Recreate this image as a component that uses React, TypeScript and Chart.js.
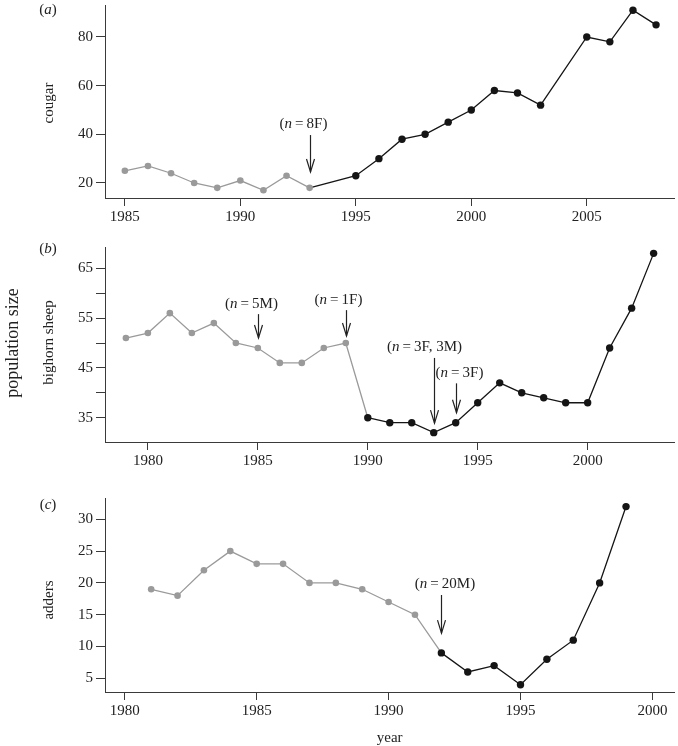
import React, { useEffect, useRef } from "react";
import { Chart, registerables } from "chart.js";

Chart.register(...registerables);

// ---------------- data ----------------
const cougarYears = [1985, 1986, 1987, 1988, 1989, 1990, 1991, 1992, 1993, 1995, 1996, 1997, 1998, 1999, 2000, 2001, 2002, 2003, 2005, 2006, 2007, 2008];
const cougarCounts = [25, 27, 24, 20, 18, 21, 17, 23, 18, 23, 30, 38, 40, 45, 50, 58, 57, 52, 80, 78, 91, 85];
const cougarXTicks = [1985, 1990, 1995, 2000, 2005];
const cougarYTicks = [20, 40, 60, 80];
const cougarYLabelled = [20, 40, 60, 80];
const cougarNotes = [{ year: 1993, n: "8F" }];

const sheepYears = [1979, 1980, 1981, 1982, 1983, 1984, 1985, 1986, 1987, 1988, 1989, 1990, 1991, 1992, 1993, 1994, 1995, 1996, 1997, 1998, 1999, 2000, 2001, 2002, 2003];
const sheepCounts = [51, 52, 56, 52, 54, 50, 49, 46, 46, 49, 50, 35, 34, 34, 32, 34, 38, 42, 40, 39, 38, 38, 49, 57, 68];
const sheepXTicks = [1980, 1985, 1990, 1995, 2000];
const sheepYTicks = [35, 40, 45, 50, 55, 60, 65];
const sheepYLabelled = [35, 45, 55, 65];
const sheepNotes = [
  { year: 1985, n: "5M" },
  { year: 1989, n: "1F" },
  { year: 1993, n: "3F, 3M" },
  { year: 1994, n: "3F" },
];

const adderYears = [1981, 1982, 1983, 1984, 1985, 1986, 1987, 1988, 1989, 1990, 1991, 1992, 1993, 1994, 1995, 1996, 1997, 1998, 1999];
const adderCounts = [19, 18, 22, 25, 23, 23, 20, 20, 19, 17, 15, 9, 6, 7, 4, 8, 11, 20, 32];
const adderXTicks = [1980, 1985, 1990, 1995, 2000];
const adderYTicks = [5, 10, 15, 20, 25, 30];
const adderYLabelled = [5, 10, 15, 20, 25, 30];
const adderNotes = [{ year: 1992, n: "20M" }];

// last year drawn grey (points) and last segment end-year drawn grey
const cougarGrey = { point: 1993, segment: 1993 };
const sheepGrey = { point: 1989, segment: 1990 };
const adderGrey = { point: 1991, segment: 1992 };

// ---------------- styles / layout ----------------
const GREY = "#9a9a9a";
const BLACK = "#151515";
const AXIS = "#3a3a3a";
const TEXT = "#222222";
const FAMILY = "'Liberation Serif', 'Times New Roman', serif";
const FONT_PX = 15;

type NoteLayout = { tip: number; tail: number; dx: number };

type PanelCfg = {
  id: string;
  top: number;
  height: number;
  areaTop: number;
  areaBottom: number;
  xMin: number;
  xMax: number;
  yMin: number;
  yMax: number;
  years: number[];
  counts: number[];
  xTicks: number[];
  yTicks: number[];
  yLabelled: number[];
  grey: { point: number; segment: number };
  notes: { year: number; n: string }[];
  noteLayout: NoteLayout[];
  letter: string;
  letterY: number;
  title: string;
  titleY: number;
  extra?: (ctx: CanvasRenderingContext2D, chart: any) => void;
};

function setFont(ctx: CanvasRenderingContext2D, px: number, italic: boolean) {
  ctx.font = `${italic ? "italic " : ""}${px}px ${FAMILY}`;
}

function drawRich(
  ctx: CanvasRenderingContext2D,
  parts: [string, boolean][],
  cx: number,
  y: number,
  px: number,
  baseline: CanvasTextBaseline
) {
  let total = 0;
  const widths = parts.map(([t, it]) => {
    setFont(ctx, px, it);
    const w = ctx.measureText(t).width;
    total += w;
    return w;
  });
  let x = cx - total / 2;
  ctx.textBaseline = baseline;
  ctx.textAlign = "left";
  ctx.fillStyle = TEXT;
  parts.forEach(([t, it], i) => {
    setFont(ctx, px, it);
    ctx.fillText(t, x, y);
    x += widths[i];
  });
}

const panels: PanelCfg[] = [
  {
    id: "a",
    top: 0,
    height: 225,
    areaTop: 5,
    areaBottom: 198,
    xMin: 1984.14,
    xMax: 2008.79,
    yMin: 13.83,
    yMax: 93.15,
    years: cougarYears,
    counts: cougarCounts,
    xTicks: cougarXTicks,
    yTicks: cougarYTicks,
    yLabelled: cougarYLabelled,
    grey: cougarGrey,
    notes: cougarNotes,
    noteLayout: [{ tip: 24.5, tail: 39.7, dx: -7 }],
    letter: "a",
    letterY: 10,
    title: "cougar",
    titleY: 103,
  },
  {
    id: "b",
    top: 225,
    height: 240,
    areaTop: 22,
    areaBottom: 217,
    xMin: 1978.05,
    xMax: 2003.94,
    yMin: 30.12,
    yMax: 69.28,
    years: sheepYears,
    counts: sheepCounts,
    xTicks: sheepXTicks,
    yTicks: sheepYTicks,
    yLabelled: sheepYLabelled,
    grey: sheepGrey,
    notes: sheepNotes,
    noteLayout: [
      { tip: 51.0, tail: 55.8, dx: -7 },
      { tip: 51.4, tail: 56.6, dx: -8 },
      { tip: 33.9, tail: 47.0, dx: -10 },
      { tip: 36.0, tail: 41.9, dx: 3 },
    ],
    letter: "b",
    letterY: 24,
    title: "bighorn sheep",
    titleY: 117.5,
    extra: (ctx) => {
      ctx.save();
      ctx.translate(13, 118);
      ctx.rotate(-Math.PI / 2);
      setFont(ctx, 18, false);
      ctx.fillStyle = TEXT;
      ctx.textAlign = "center";
      ctx.textBaseline = "middle";
      ctx.fillText("population size", 0, 0);
      ctx.restore();
    },
  },
  {
    id: "c",
    top: 465,
    height: 281,
    areaTop: 33,
    areaBottom: 227,
    xMin: 1979.25,
    xMax: 2000.83,
    yMin: 2.85,
    yMax: 33.35,
    years: adderYears,
    counts: adderCounts,
    xTicks: adderXTicks,
    yTicks: adderYTicks,
    yLabelled: adderYLabelled,
    grey: adderGrey,
    notes: adderNotes,
    noteLayout: [{ tip: 12.1, tail: 18.1, dx: 3.5 }],
    letter: "c",
    letterY: 40,
    title: "adders",
    titleY: 135,
    extra: (ctx, chart) => {
      const area = chart.chartArea;
      setFont(ctx, FONT_PX, false);
      ctx.fillStyle = TEXT;
      ctx.textAlign = "center";
      ctx.textBaseline = "middle";
      ctx.fillText("year", (area.left + area.right) / 2, 273);
    },
  },
];

function Panel({ p }: { p: PanelCfg }) {
  const ref = useRef<HTMLCanvasElement | null>(null);

  useEffect(() => {
    if (!ref.current) return;

    const decorations = {
      id: "decor" + p.id,
      afterDatasetsDraw(chart: any) {
        const ctx: CanvasRenderingContext2D = chart.ctx;
        const xs = chart.scales.x;
        const ys = chart.scales.y;
        ctx.save();
        // arrows + notes
        p.notes.forEach((note, i) => {
          const lay = p.noteLayout[i];
          const x = Math.round(xs.getPixelForValue(note.year)) + 0.5;
          const yTip = ys.getPixelForValue(lay.tip);
          const yTail = ys.getPixelForValue(lay.tail);
          ctx.strokeStyle = TEXT;
          ctx.lineWidth = 1.2;
          ctx.beginPath();
          ctx.moveTo(x, yTail);
          ctx.lineTo(x, yTip);
          ctx.stroke();
          ctx.beginPath();
          ctx.moveTo(x - 4, yTip - 13);
          ctx.lineTo(x, yTip);
          ctx.lineTo(x + 4, yTip - 13);
          ctx.stroke();
          drawRich(
            ctx,
            [
              ["(", false],
              ["n", true],
              ["\u2009=\u2009" + note.n + ")", false],
            ],
            x + lay.dx,
            yTail - 3,
            FONT_PX,
            "bottom"
          );
        });
        // panel letter
        drawRich(
          ctx,
          [
            ["(", false],
            [p.letter, true],
            [")", false],
          ],
          48,
          p.letterY,
          FONT_PX,
          "middle"
        );
        // y title
        ctx.save();
        ctx.translate(49, p.titleY);
        ctx.rotate(-Math.PI / 2);
        setFont(ctx, FONT_PX, false);
        ctx.fillStyle = TEXT;
        ctx.textAlign = "center";
        ctx.textBaseline = "middle";
        ctx.fillText(p.title, 0, 0);
        ctx.restore();
        if (p.extra) p.extra(ctx, chart);
        ctx.restore();
      },
    };

    const tickFont = { family: FAMILY, size: FONT_PX };

    const chart = new Chart(ref.current, {
      type: "line",
      data: {
        datasets: [
          {
            data: p.years.map((yr, i) => ({ x: yr, y: p.counts[i] })),
            borderWidth: 1.3,
            borderColor: BLACK,
            tension: 0,
            fill: false,
            pointRadius: (c: any) => (c.raw && c.raw.x <= p.grey.point ? 3.3 : 3.7),
            pointBackgroundColor: (c: any) => (c.raw && c.raw.x <= p.grey.point ? GREY : BLACK),
            pointBorderWidth: 0,
            pointHoverRadius: 0,
            segment: {
              borderColor: (c: any) => (c.p1.parsed.x <= p.grey.segment ? GREY : BLACK),
            },
          } as any,
        ],
      },
      options: {
        animation: false,
        responsive: false,
        events: [],
        layout: { padding: { left: 0, right: 1, top: p.areaTop, bottom: 0 } },
        plugins: {
          legend: { display: false },
          tooltip: { enabled: false },
          title: { display: false },
        },
        scales: {
          x: {
            type: "linear",
            min: p.xMin,
            max: p.xMax,
            afterBuildTicks: (s: any) => {
              s.ticks = p.xTicks.map((v) => ({ value: v }));
            },
            afterFit: (s: any) => {
              s.height = p.height - p.areaBottom;
              s.paddingLeft = 0;
              s.paddingRight = 0;
            },
            ticks: {
              callback: (v: any) => String(v),
              font: tickFont,
              color: TEXT,
              padding: 2,
              maxRotation: 0,
              autoSkip: false,
            },
            grid: {
              drawOnChartArea: false,
              drawTicks: true,
              tickLength: 8,
              color: AXIS,
              lineWidth: 1,
            },
            border: { display: true, color: AXIS, width: 1 },
          },
          y: {
            type: "linear",
            min: p.yMin,
            max: p.yMax,
            afterBuildTicks: (s: any) => {
              s.ticks = p.yTicks.map((v) => ({ value: v }));
            },
            afterFit: (s: any) => {
              s.width = 105;
              s.paddingTop = 0;
              s.paddingBottom = 0;
            },
            ticks: {
              callback: (v: any) => (p.yLabelled.includes(v) ? String(v) : ""),
              font: tickFont,
              color: TEXT,
              padding: 3,
              autoSkip: false,
            },
            grid: {
              drawOnChartArea: false,
              drawTicks: true,
              tickLength: 9,
              color: AXIS,
              lineWidth: 1,
            },
            border: { display: true, color: AXIS, width: 1 },
          },
        },
      } as any,
      plugins: [decorations],
    });

    return () => chart.destroy();
  }, [p]);

  return (
    <canvas
      ref={ref}
      width={678}
      height={p.height}
      style={{ position: "absolute", left: 0, top: p.top, display: "block", width: 678, height: p.height }}
    />
  );
}

export default function App() {
  return (
    <div
      style={{
        position: "fixed",
        left: 0,
        top: 0,
        width: 678,
        height: 746,
        background: "#ffffff",
        overflow: "hidden",
      }}
    >
      {panels.map((p) => (
        <Panel key={p.id} p={p} />
      ))}
    </div>
  );
}
